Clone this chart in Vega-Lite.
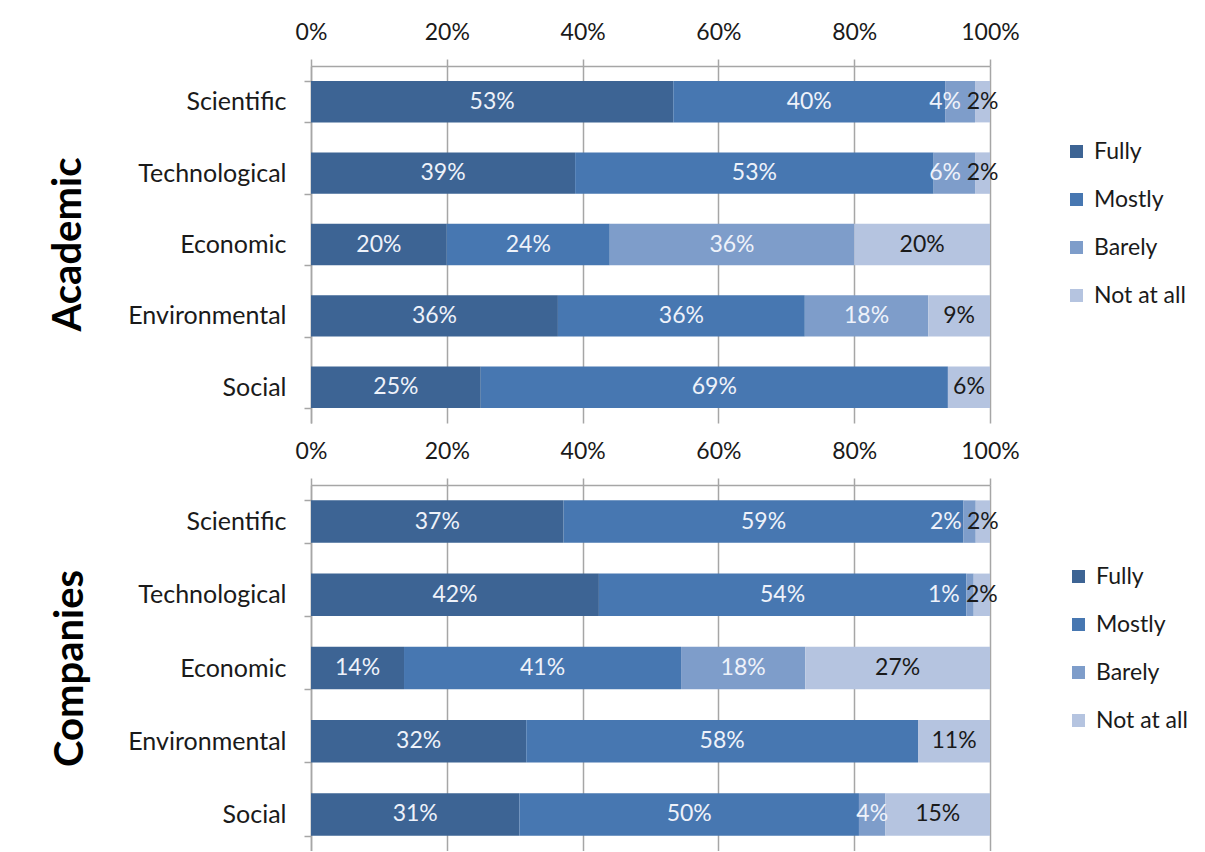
{
  "$schema": "https://vega.github.io/schema/vega-lite/v6.json",
  "padding": {"left": 48, "top": 21, "right": 0, "bottom": 0},
  "background": "white",
  "config": {
    "font": "Lato",
    "view": {"stroke": null},
    "concat": {"spacing": 17},
    "axis": {
      "labelFont": "Lato",
      "labelFontSize": 23,
      "labelColor": "#1a1a1a",
      "domainColor": "#a6a6a6",
      "tickColor": "#a6a6a6",
      "gridColor": "#a6a6a6",
      "domainWidth": 1.5,
      "tickWidth": 1.5,
      "gridWidth": 1.5,
      "tickSize": 7,
      "titleFont": "Lato",
      "titleColor": "#000000"
    },
    "legend": {
      "labelFont": "Lato",
      "labelFontSize": 23,
      "labelColor": "#1a1a1a",
      "symbolType": "square",
      "symbolSize": 170,
      "symbolStrokeWidth": 0,
      "rowPadding": 24,
      "labelOffset": 6
    }
  },
  "data": {
    "values": [
      {"panel": "Academic", "cat": "Scientific", "level": "Fully", "value": 53.3, "label": "53%"},
      {"panel": "Academic", "cat": "Scientific", "level": "Mostly", "value": 40.0, "label": "40%"},
      {"panel": "Academic", "cat": "Scientific", "level": "Barely", "value": 4.4, "label": "4%"},
      {"panel": "Academic", "cat": "Scientific", "level": "Not at all", "value": 2.2, "label": "2%"},
      {"panel": "Academic", "cat": "Technological", "level": "Fully", "value": 38.9, "label": "39%"},
      {"panel": "Academic", "cat": "Technological", "level": "Mostly", "value": 52.8, "label": "53%"},
      {"panel": "Academic", "cat": "Technological", "level": "Barely", "value": 6.1, "label": "6%"},
      {"panel": "Academic", "cat": "Technological", "level": "Not at all", "value": 2.2, "label": "2%"},
      {"panel": "Academic", "cat": "Economic", "level": "Fully", "value": 20, "label": "20%"},
      {"panel": "Academic", "cat": "Economic", "level": "Mostly", "value": 24, "label": "24%"},
      {"panel": "Academic", "cat": "Economic", "level": "Barely", "value": 36, "label": "36%"},
      {"panel": "Academic", "cat": "Economic", "level": "Not at all", "value": 20, "label": "20%"},
      {"panel": "Academic", "cat": "Environmental", "level": "Fully", "value": 36.4, "label": "36%"},
      {"panel": "Academic", "cat": "Environmental", "level": "Mostly", "value": 36.4, "label": "36%"},
      {"panel": "Academic", "cat": "Environmental", "level": "Barely", "value": 18.2, "label": "18%"},
      {"panel": "Academic", "cat": "Environmental", "level": "Not at all", "value": 9.1, "label": "9%"},
      {"panel": "Academic", "cat": "Social", "level": "Fully", "value": 25, "label": "25%"},
      {"panel": "Academic", "cat": "Social", "level": "Mostly", "value": 68.8, "label": "69%"},
      {"panel": "Academic", "cat": "Social", "level": "Not at all", "value": 6.2, "label": "6%"},
      {"panel": "Companies", "cat": "Scientific", "level": "Fully", "value": 37.2, "label": "37%"},
      {"panel": "Companies", "cat": "Scientific", "level": "Mostly", "value": 58.9, "label": "59%"},
      {"panel": "Companies", "cat": "Scientific", "level": "Barely", "value": 1.8, "label": "2%"},
      {"panel": "Companies", "cat": "Scientific", "level": "Not at all", "value": 2.1, "label": "2%"},
      {"panel": "Companies", "cat": "Technological", "level": "Fully", "value": 42.4, "label": "42%"},
      {"panel": "Companies", "cat": "Technological", "level": "Mostly", "value": 54.1, "label": "54%"},
      {"panel": "Companies", "cat": "Technological", "level": "Barely", "value": 1.1, "label": "1%"},
      {"panel": "Companies", "cat": "Technological", "level": "Not at all", "value": 2.4, "label": "2%"},
      {"panel": "Companies", "cat": "Economic", "level": "Fully", "value": 13.7, "label": "14%"},
      {"panel": "Companies", "cat": "Economic", "level": "Mostly", "value": 40.8, "label": "41%"},
      {"panel": "Companies", "cat": "Economic", "level": "Barely", "value": 18.3, "label": "18%"},
      {"panel": "Companies", "cat": "Economic", "level": "Not at all", "value": 27.2, "label": "27%"},
      {"panel": "Companies", "cat": "Environmental", "level": "Fully", "value": 31.7, "label": "32%"},
      {"panel": "Companies", "cat": "Environmental", "level": "Mostly", "value": 57.7, "label": "58%"},
      {"panel": "Companies", "cat": "Environmental", "level": "Not at all", "value": 10.6, "label": "11%"},
      {"panel": "Companies", "cat": "Social", "level": "Fully", "value": 30.7, "label": "31%"},
      {"panel": "Companies", "cat": "Social", "level": "Mostly", "value": 50.0, "label": "50%"},
      {"panel": "Companies", "cat": "Social", "level": "Barely", "value": 3.9, "label": "4%"},
      {"panel": "Companies", "cat": "Social", "level": "Not at all", "value": 15.4, "label": "15%"}
    ]
  },
  "transform": [
    {"calculate": "indexof(['Fully','Mostly','Barely','Not at all'], datum.level)", "as": "ord"},
    {"stack": "value", "groupby": ["panel", "cat"], "sort": [{"field": "ord", "order": "ascending"}], "offset": "normalize", "as": ["x0", "x1"]},
    {"calculate": "(datum.x0 + datum.x1) / 2", "as": "mid"},
    {"calculate": "datum.level === 'Barely' && datum.x1 > 0.96", "as": "crowded"}
  ],
  "resolve": {"scale": {"color": "independent"}},
  "vconcat": [
    {
      "width": 679,
      "height": 357,
      "transform": [{"filter": "datum.panel === 'Academic'"}],
      "encoding": {
        "y": {
          "field": "cat",
          "type": "nominal",
          "sort": ["Scientific", "Technological", "Economic", "Environmental", "Social"],
          "scale": {"paddingInner": 0.42, "paddingOuter": 0.21},
          "axis": {
            "title": "Academic",
            "titleFontSize": 40,
            "titleFontWeight": "bold",
            "titleAngle": -90,
            "titleX": -243,
            "titleY": 178,
            "titleAlign": "center",
            "titleBaseline": "middle",
            "tickBand": "extent",
            "labelPadding": 18,
            "labelFontSize": 25
          }
        }
      },
      "layer": [
        {
          "mark": {"type": "bar"},
          "encoding": {
            "x": {
              "field": "x0",
              "type": "quantitative",
              "scale": {"domain": [0, 1], "nice": false},
              "axis": {"orient": "top", "values": [0, 0.2, 0.4, 0.6, 0.8, 1], "format": "%", "grid": true, "title": null, "labelPadding": 15, "labelFlush": false}
            },
            "x2": {"field": "x1"},
            "color": {
              "field": "level",
              "type": "nominal",
              "scale": {"domain": ["Fully", "Mostly", "Barely", "Not at all"], "range": ["#3d6494", "#4777b1", "#7e9dca", "#b5c4e0"]},
              "legend": {"title": null, "orient": "none", "legendX": 754, "legendY": 74}
            }
          }
        },
        {
          "transform": [{"filter": "!datum.crowded"}],
          "mark": {"type": "text", "fontSize": 23, "font": "Lato"},
          "encoding": {
            "x": {"field": "mid", "type": "quantitative"},
            "text": {"field": "label"},
            "color": {"condition": {"test": "datum.level === 'Not at all'", "value": "#1a1a1a"}, "value": "#eef2fa"}
          }
        },
        {
          "transform": [{"filter": "datum.crowded"}],
          "mark": {"type": "text", "fontSize": 23, "font": "Lato", "align": "right", "dx": -14, "color": "#eef2fa"},
          "encoding": {
            "x": {"field": "x1", "type": "quantitative"},
            "text": {"field": "label"}
          }
        }
      ]
    },
    {
      "width": 679,
      "height": 366,
      "transform": [{"filter": "datum.panel === 'Companies'"}],
      "encoding": {
        "y": {
          "field": "cat",
          "type": "nominal",
          "sort": ["Scientific", "Technological", "Economic", "Environmental", "Social"],
          "scale": {"paddingInner": 0.42, "paddingOuter": 0.21},
          "axis": {
            "title": "Companies",
            "titleFontSize": 40,
            "titleFontWeight": "bold",
            "titleAngle": -90,
            "titleX": -241,
            "titleY": 183,
            "titleAlign": "center",
            "titleBaseline": "middle",
            "tickBand": "extent",
            "labelPadding": 18,
            "labelFontSize": 25
          }
        }
      },
      "layer": [
        {
          "mark": {"type": "bar"},
          "encoding": {
            "x": {
              "field": "x0",
              "type": "quantitative",
              "scale": {"domain": [0, 1], "nice": false},
              "axis": {"orient": "top", "values": [0, 0.2, 0.4, 0.6, 0.8, 1], "format": "%", "grid": true, "title": null, "labelPadding": 15, "labelFlush": false}
            },
            "x2": {"field": "x1"},
            "color": {
              "field": "level",
              "type": "nominal",
              "scale": {"domain": ["Fully", "Mostly", "Barely", "Not at all"], "range": ["#3d6494", "#4777b1", "#7e9dca", "#b5c4e0"]},
              "legend": {"title": null, "orient": "none", "legendX": 756, "legendY": 80}
            }
          }
        },
        {
          "transform": [{"filter": "!datum.crowded"}],
          "mark": {"type": "text", "fontSize": 23, "font": "Lato"},
          "encoding": {
            "x": {"field": "mid", "type": "quantitative"},
            "text": {"field": "label"},
            "color": {"condition": {"test": "datum.level === 'Not at all'", "value": "#1a1a1a"}, "value": "#eef2fa"}
          }
        },
        {
          "transform": [{"filter": "datum.crowded"}],
          "mark": {"type": "text", "fontSize": 23, "font": "Lato", "align": "right", "dx": -14, "color": "#eef2fa"},
          "encoding": {
            "x": {"field": "x1", "type": "quantitative"},
            "text": {"field": "label"}
          }
        }
      ]
    }
  ]
}
